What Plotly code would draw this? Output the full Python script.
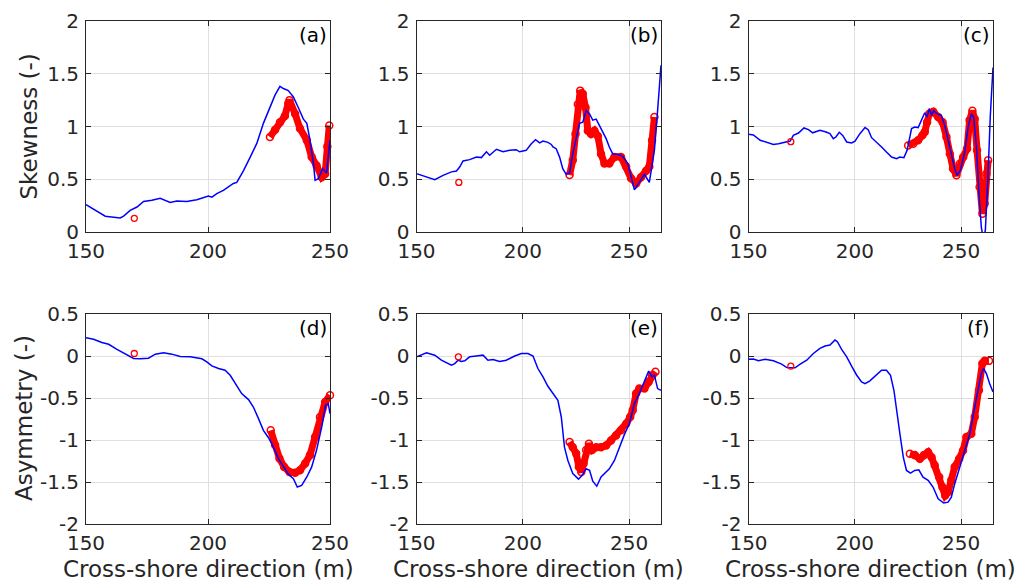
import plotly.graph_objects as go

# ---- panel (a): skewness ----
xBlueA = [150, 157.9, 164, 165.4, 168.1, 170.9, 173.6, 177, 180.4, 184.5, 187.2, 191.3, 195.4, 200.2, 201.6,
          203.6, 206.3, 210.4, 211.8, 214.5, 217.3, 220, 222.7, 225.4, 227.5, 229.5, 230.9, 232.9, 235, 237,
          239.1, 240.5, 241.8, 243.2, 243.9, 245.2, 247, 248.6, 250]
yBlueA = [0.26, 0.15, 0.133, 0.15, 0.205, 0.237, 0.29, 0.30, 0.32, 0.28, 0.294, 0.29, 0.306, 0.34, 0.33,
          0.363, 0.395, 0.46, 0.47, 0.58, 0.71, 0.84, 1.03, 1.18, 1.30, 1.38, 1.36, 1.34, 1.28, 1.18,
          1.07, 1.03, 0.87, 0.65, 0.49, 0.505, 0.60, 0.56, 0.87]
xRedA = [225.4, 227.5, 229.5, 231.5, 232.9, 233.4, 235.7, 237.7, 240.5, 242.5, 244.5, 246.6, 248, 248.9, 249.7]
yRedA = [0.90, 0.97, 1.04, 1.10, 1.22, 1.25, 1.12, 0.98, 0.87, 0.71, 0.63, 0.52, 0.55, 0.81, 1.01]

# ---- panel (b): skewness ----
xBlueB = [150, 154.7, 158.6, 162.5, 166.4, 168.8, 170.3, 171.9, 175, 178.2, 180.5, 182.9, 184.4, 187.6, 190.7,
          193.8, 196.9, 198.5, 201.6, 204, 206, 207.9, 209.5, 211.8, 213.4, 214.2, 215.7, 217.3, 218.8, 220.4,
          222, 223.5, 225.1, 226.7, 228.2, 229.8, 231.4, 232.9, 234.5, 236.1, 237.6, 239.2, 240.7, 242.3,
          244.7, 247, 249.4, 250.9, 252.5, 254.8, 257.2, 259.5, 261.9, 263.4, 265]
yBlueB = [0.553, 0.52, 0.496, 0.537, 0.57, 0.578, 0.616, 0.673, 0.686, 0.71, 0.705, 0.76, 0.727, 0.784, 0.76,
          0.774, 0.78, 0.76, 0.774, 0.837, 0.875, 0.845, 0.862, 0.85, 0.83, 0.806, 0.79, 0.71, 0.60, 0.547,
          0.56, 0.74, 0.90, 1.03, 1.04, 1.15, 1.12, 1.06, 1.07, 1.01, 0.95, 0.885, 0.806, 0.74,
          0.736, 0.717, 0.648, 0.52, 0.40, 0.47, 0.547, 0.47, 0.774, 1.15, 1.58]
xRedB = [222, 223.5, 224.8, 225.9, 227, 228.2, 229.5, 230.6, 232.1, 233.7, 235.3, 236.8, 238.4, 240.7, 243.1,
         246.2, 248.6, 250.9, 253.3, 255.6, 258, 259.5, 260.8, 261.9]
yRedB = [0.54, 0.68, 0.93, 1.21, 1.34, 1.31, 1.18, 0.96, 0.93, 0.96, 0.91, 0.74, 0.65, 0.65, 0.71,
         0.71, 0.62, 0.51, 0.46, 0.52, 0.58, 0.62, 0.87, 1.09]

# ---- panel (c): skewness ----
xBlueC = [150, 152.3, 155.5, 158.6, 161.7, 164.1, 167.2, 169.6, 171.1, 173.5, 176.1, 178.2, 180.2, 183.6, 186.5,
          188.3, 189.9, 191.1, 192.7, 194.3, 196.2, 198.5, 200.1, 202.4, 204.8, 206.3, 207.9, 210.2, 212.6,
          214.9, 217.3, 219.6, 221.2, 223.1, 224.6, 226.7, 228.2, 229.8, 231.4, 232.9, 234, 235, 236.1, 237.1,
          238.7, 240.7, 242.3, 243.9, 245.4, 247, 248.1, 249.7, 251.7, 253.3, 254.8, 255.9, 257.2, 258.4,
          259.5, 260.4, 261.4, 262.7, 263.7, 265]
yBlueC = [0.926, 0.92, 0.87, 0.853, 0.83, 0.837, 0.853, 0.862, 0.916, 0.938, 0.986, 0.97, 0.94, 0.964, 0.948,
          0.932, 0.885, 0.90, 0.945, 0.916, 0.853, 0.844, 0.862, 0.932, 0.99, 0.97, 0.894, 0.853, 0.806,
          0.758, 0.711, 0.695, 0.711, 0.705, 0.774, 0.98, 0.995, 0.99, 1.06, 1.13, 1.09, 1.17, 1.106, 1.15,
          1.12, 1.106, 1.01, 0.885, 0.742, 0.60, 0.537, 0.585, 0.758, 0.995, 1.12, 1.09, 0.806, 0.363,
          0.047, -0.06, 0.016, 0.553, 1.09, 1.56]
xRedC = [225.1, 227.5, 229.8, 231.8, 232.9, 234, 235, 236.9, 239.2, 241.3, 243.1, 244.7, 246.2, 247.8, 249.4,
         251, 252.8, 254, 255.3, 256.4, 257.5, 258.7, 260, 261.1, 261.9, 262.7]
yRedC = [0.82, 0.837, 0.87, 0.916, 0.948, 1.04, 1.12, 1.14, 1.09, 1.04, 0.90, 0.742, 0.60, 0.537, 0.648,
         0.71, 0.79, 1.06, 1.15, 1.07, 0.774, 0.427, 0.174, 0.27, 0.553, 0.68]

# ---- panel (d): asymmetry ----
xBlueD = [150, 153.1, 156.5, 159.3, 162.7, 166.1, 169.5, 172.2, 175.6, 178.4, 181.8, 185.2, 188.6, 192.7, 197.5,
          199.5, 201.6, 204.3, 207, 209.1, 211.1, 213.8, 216.6, 218.6, 220.7, 222.7, 224.8, 226.8, 228.9,
          230.9, 233, 235, 236.6, 238.4, 240.5, 242.5, 244.5, 246.6, 248.2, 249.3, 250]
yBlueD = [0.217, 0.20, 0.16, 0.14, 0.078, 0.022, -0.03, -0.033, -0.026, 0.022, 0.038, 0.022, -0.006, -0.01, -0.033,
          -0.07, -0.117, -0.149, -0.169, -0.229, -0.32, -0.447, -0.519, -0.607, -0.746, -0.885, -0.973, -1.085, -1.224,
          -1.323, -1.41, -1.46, -1.56, -1.54, -1.44, -1.32, -1.12, -0.845, -0.587, -0.567, -0.686]
xRedD = [225.7, 227.5, 229.3, 231.2, 233.4, 235.7, 237.7, 239.8, 241.8, 243.9, 245.9, 248, 250]
yRedD = [-0.885, -1.06, -1.22, -1.32, -1.38, -1.39, -1.36, -1.28, -1.18, -0.965, -0.726, -0.547, -0.467]

# ---- panel (e): asymmetry ----
xBlueE = [150, 152.3, 154.7, 158.6, 161.7, 166.4, 168, 169.6, 171.1, 172.7, 175, 178.2, 181.3, 183.6, 186,
          189.1, 192.2, 196.2, 199.3, 202.4, 204.8, 207.1, 209.5, 211.8, 214.2, 216.5, 218.1, 218.8, 219.6,
          221.2, 223.5, 226.2, 227.9, 229.8, 231.4, 232.9, 234.8, 236.8, 238.4, 240.7, 243.1, 245.4, 247.8,
          250.1, 252.5, 254.8, 257.2, 259.2, 260.8, 261.9, 263.4, 265]
yBlueE = [-0.01, 0.018, 0.038, 0.01, -0.05, -0.109, -0.09, -0.05, -0.066, -0.057, -0.01, 0, 0.01, -0.05, -0.042,
          -0.066, -0.05, 0, 0.03, 0.03, 0, -0.149, -0.248, -0.36, -0.447, -0.527, -0.726, -0.925, -1.085,
          -1.244, -1.40, -1.466, -1.42, -1.343, -1.36, -1.49, -1.55, -1.44, -1.40, -1.343, -1.244, -1.085, -0.933,
          -0.806, -0.567, -0.447, -0.308, -0.18, -0.248, -0.228, -0.388, -0.408]
xRedE = [222, 223.5, 225.1, 226.4, 227.5, 228.6, 229.8, 231.1, 232.6, 234.5, 236.8, 239.2, 241.5, 243.9, 246.2,
         248.6, 250.5, 251.7, 253.3, 254.8, 257.2, 259.2, 260.8, 262.4]
yRedE = [-1.025, -1.085, -1.16, -1.32, -1.38, -1.28, -1.12, -1.045, -1.12, -1.085, -1.085, -1.065, -1.005, -0.945, -0.885,
         -0.806, -0.726, -0.647, -0.447, -0.388, -0.388, -0.308, -0.228, -0.188]

# ---- panel (f): asymmetry ----
xBlueF = [150, 152.3, 154.7, 157.8, 161.7, 165.6, 168, 170.3, 171.9, 174.3, 177.4, 180.5, 183.6, 186, 188.3,
          190.7, 191.8, 193.8, 196.2, 198.5, 200.9, 203.2, 204.8, 207.1, 210.2, 212.6, 214.9, 216.8, 218.4,
          219.6, 221.2, 222.8, 224.3, 226.2, 228.2, 230.1, 232.1, 234.5, 236.8, 239.2, 241.8, 243.9, 245.4,
          247, 249.4, 251.7, 254.1, 256.4, 258, 259.5, 260.6, 261.9, 263.4, 265]
yBlueF = [-0.04, -0.036, -0.057, -0.04, -0.057, -0.097, -0.137, -0.137, -0.141, -0.097, -0.05, 0.03, 0.09, 0.118, 0.13,
          0.19, 0.17, 0.078, -0.01, -0.121, -0.229, -0.308, -0.328, -0.296, -0.229, -0.169, -0.169, -0.229, -0.408,
          -0.646, -0.925, -1.204, -1.363, -1.395, -1.363, -1.355, -1.443, -1.48, -1.56, -1.70, -1.75, -1.74, -1.68,
          -1.52, -1.32, -1.12, -0.925, -0.607, -0.408, -0.209, -0.149, -0.209, -0.328, -0.427]
xRedF = [225.9, 228.2, 230.6, 232.5, 234.5, 236.1, 237.6, 239.7, 241.2, 242.5, 243.9, 245.4, 247, 249.1, 250.9,
         252.5, 254.8, 256.4, 258.4, 260, 261.1, 263.1]
yRedF = [-1.164, -1.18, -1.224, -1.18, -1.145, -1.204, -1.30, -1.44, -1.56, -1.66, -1.62, -1.48, -1.32, -1.224, -1.125,
         -0.965, -0.925, -0.726, -0.408, -0.09, -0.058, -0.058]

# single isolated circle near x=170 in each panel
xSingle = [169.8, 169.9, 169.9, 169.8, 169.7, 169.9]
ySingle = [0.13, 0.47, 0.856, 0.03, -0.01, -0.12]

panelLabels = ['(a)', '(b)', '(c)', '(d)', '(e)', '(f)']
xMax = [250, 265, 265, 250, 265, 265]
skewTicks = [0, 0.5, 1, 1.5, 2]
skewText = ['0', '0.5', '1', '1.5', '2']
asymTicks = [-2, -1.5, -1, -0.5, 0, 0.5]
asymText = ['-2', '-1.5', '-1', '-0.5', '0', '0.5']
xTicks = [150, 200, 250]

blues = [(xBlueA, yBlueA), (xBlueB, yBlueB), (xBlueC, yBlueC), (xBlueD, yBlueD), (xBlueE, yBlueE), (xBlueF, yBlueF)]
reds = [(xRedA, yRedA), (xRedB, yRedB), (xRedC, yRedC), (xRedD, yRedD), (xRedE, yRedE), (xRedF, yRedF)]

W, H = 1019, 583
colsPx = [(86, 330), (416.5, 661), (748.5, 993)]
rowsPx = [(21, 232), (314, 524)]
FONT = 'DejaVu Sans'
DARK = '#262626'

fig = go.Figure()

for i in range(6):
    n = i + 1
    sfx = '' if n == 1 else str(n)
    xb, yb = blues[i]
    xr, yr = reds[i]
    # red band (dense open circles in the original)
    fig.add_trace(go.Scatter(x=xr, y=yr, mode='lines+markers', line=dict(color='#ff0000', width=7),
                             marker=dict(symbol='circle-open', size=7, color='#ff0000', line=dict(width=1.5)),
                             cliponaxis=False, xaxis='x' + sfx, yaxis='y' + sfx, showlegend=False))
    fig.add_trace(go.Scatter(x=xb, y=yb, mode='lines', line=dict(color='#0000ff', width=1.5),
                             xaxis='x' + sfx, yaxis='y' + sfx, showlegend=False))
    fig.add_trace(go.Scatter(x=[xSingle[i]], y=[ySingle[i]], mode='markers',
                             marker=dict(symbol='circle-open', size=6, color='#ff0000', line=dict(width=1.3)),
                             xaxis='x' + sfx, yaxis='y' + sfx, showlegend=False))

    c = i % 3
    r = i // 3
    x0, x1 = colsPx[c]
    y0, y1 = rowsPx[r]
    common = dict(showline=True, linecolor=DARK, linewidth=1, mirror='ticks', ticks='inside', ticklen=5,
                  tickcolor=DARK, tickwidth=1, showgrid=True, gridcolor='#dfdfdf', gridwidth=1, zeroline=False,
                  automargin=False, tickfont=dict(family=FONT, size=20, color=DARK))
    fig.layout['xaxis' + sfx] = dict(common, domain=[x0 / W, x1 / W], range=[150, xMax[i]],
                                     tickvals=xTicks, ticktext=[str(t) for t in xTicks],
                                     anchor='y' + sfx, ticklabelstandoff=1)
    if r == 0:
        fig.layout['yaxis' + sfx] = dict(common, domain=[1 - y1 / H, 1 - y0 / H], range=[0, 2],
                                         tickvals=skewTicks, ticktext=skewText, anchor='x' + sfx,
                                         ticklabelstandoff=2)
    else:
        fig.layout['yaxis' + sfx] = dict(common, domain=[1 - y1 / H, 1 - y0 / H], range=[-2, 0.5],
                                         tickvals=asymTicks, ticktext=asymText, anchor='x' + sfx,
                                         ticklabelstandoff=2)
    fig.add_annotation(text=panelLabels[i], xref='paper', yref='paper', x=(x1 - 1) / W, y=1 - y0 / H,
                       xanchor='right', yanchor='top', showarrow=False,
                       font=dict(family=FONT, size=20, color='black'))
    if r == 1:
        fig.add_annotation(text='Cross-shore direction (m)', xref='paper', yref='paper',
                           x=(x0 + x1) / 2 / W, y=1 - 569 / H, xanchor='center', yanchor='middle',
                           showarrow=False, font=dict(family=FONT, size=23, color=DARK))

fig.add_annotation(text='Skewness (-)', xref='paper', yref='paper', x=28 / W, y=1 - 126.5 / H,
                   textangle=-90, xanchor='center', yanchor='middle', showarrow=False,
                   font=dict(family=FONT, size=23, color=DARK))
fig.add_annotation(text='Asymmetry (-)', xref='paper', yref='paper', x=24 / W, y=1 - 418 / H,
                   textangle=-90, xanchor='center', yanchor='middle', showarrow=False,
                   font=dict(family=FONT, size=23, color=DARK))

fig.update_layout(width=W, height=H, margin=dict(l=0, r=0, t=0, b=0),
                  paper_bgcolor='white', plot_bgcolor='white')

# drop the default 8px page margin so the figure sits at the window origin
fig.write_html("out.html", config={'displayModeBar': False},
               post_script="document.body.style.margin='0px';")
